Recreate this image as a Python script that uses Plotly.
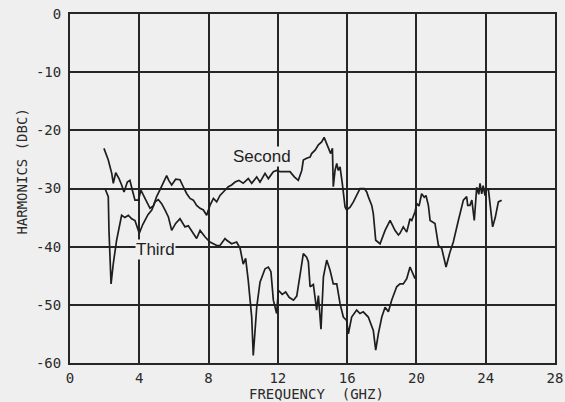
import plotly.graph_objects as go

# ---- data ----
second_freq = [1.96, 2.21, 2.41, 2.50, 2.64, 2.83, 2.98, 3.12, 3.31, 3.46, 3.60, 3.75, 3.94, 4.10, 4.33,
               4.62, 4.81, 5.00, 5.20, 5.40, 5.58, 5.70, 5.87, 6.10, 6.35, 6.54, 6.74, 6.93, 7.12, 7.31,
               7.51, 7.70, 7.89, 8.08, 8.28, 8.47, 8.66, 8.85, 9.14, 9.33, 9.53, 9.75, 10.00, 10.29, 10.49,
               10.78, 10.97, 11.26, 11.45, 11.74, 11.93, 12.12, 12.41, 12.70, 12.95, 13.18, 13.38, 13.47,
               13.66, 13.86, 13.95, 14.15, 14.34, 14.53, 14.67, 14.82, 14.95, 15.05, 15.15, 15.20, 15.30,
               15.40, 15.49, 15.59, 15.72, 15.88, 15.97, 16.17, 16.36, 16.55, 16.74, 16.99, 17.13, 17.22,
               17.42, 17.51, 17.65, 17.90, 18.19, 18.48, 18.62, 18.76, 18.96, 19.05, 19.24, 19.44, 19.63,
               19.73, 19.92, 20.02, 20.15, 20.30, 20.45, 20.55, 20.69, 20.79, 21.07, 21.27, 21.46, 21.71,
               21.94, 22.13, 22.42, 22.71, 22.90, 22.96, 23.09, 23.20, 23.34, 23.48, 23.60, 23.67, 23.77,
               23.85, 23.96, 24.06, 24.16, 24.25, 24.40, 24.55, 24.73, 24.92]
second_dbc = [-23.1, -25.1, -27.4, -29.1, -27.3, -28.3, -29.4, -30.6, -28.9, -28.6, -30.3, -32.0, -32.0, -30.3,
              -31.7, -33.4, -33.0, -31.4, -30.2, -28.8, -27.8, -28.6, -29.4, -28.4, -28.5, -29.7, -30.9,
              -31.7, -32.0, -32.9, -33.4, -33.7, -34.6, -32.9, -31.7, -32.3, -31.2, -30.6, -29.7, -29.4,
              -28.9, -28.6, -29.1, -28.3, -29.1, -28.0, -28.9, -27.4, -28.3, -27.1, -26.9, -27.1, -27.1,
              -27.1, -28.0, -28.6, -26.9, -25.1, -24.8, -24.6, -24.0, -23.4, -22.5, -22.0, -21.2, -22.3,
              -23.1, -24.0, -23.1, -29.7, -26.9, -25.7, -26.9, -26.3, -29.1, -33.2, -33.7, -33.2, -32.3,
              -31.2, -30.0, -30.0, -30.6, -31.4, -32.9, -34.3, -38.9, -39.5, -37.2, -35.5, -36.4, -37.2,
              -38.0, -37.7, -36.6, -37.5, -35.2, -35.5, -34.0, -32.6, -33.0, -30.9, -31.5, -31.2, -32.9,
              -35.5, -36.0, -39.8, -40.3, -43.5, -40.9, -39.2, -35.5, -32.0, -31.4, -32.9, -32.9, -32.0,
              -35.5, -29.8, -31.0, -29.1, -30.9, -29.5, -31.2, -30.0, -30.3, -32.5, -36.6, -35.0, -32.3,
              -32.0]

third_freq = [2.02, 2.21, 2.25, 2.37, 2.50, 2.69, 2.98, 3.17, 3.37, 3.56, 3.75, 3.94, 4.00, 4.20, 4.50,
              4.72, 4.91, 5.10, 5.29, 5.49, 5.68, 5.87, 6.10, 6.35, 6.64, 6.83, 7.02, 7.31, 7.51, 7.79,
              8.08, 8.47, 8.66, 8.95, 9.05, 9.33, 9.62, 9.82, 10.00, 10.14, 10.29, 10.49, 10.58, 10.78,
              10.97, 11.26, 11.45, 11.60, 11.74, 11.93, 12.03, 12.25, 12.45, 12.65, 12.90, 13.09, 13.28,
              13.47, 13.66, 13.76, 13.86, 14.05, 14.24, 14.34, 14.49, 14.63, 14.82, 15.01, 15.20, 15.40,
              15.59, 15.78, 15.97, 16.07, 16.26, 16.55, 16.74, 16.93, 17.22, 17.51, 17.65, 17.80, 18.00,
              18.19, 18.38, 18.57, 18.86, 19.05, 19.24, 19.44, 19.63, 19.82, 19.92]
third_dbc = [-30.0, -31.4, -37.2, -46.4, -42.9, -38.9, -34.6, -35.0, -34.6, -35.2, -35.5, -37.5, -37.7, -36.2,
             -34.5, -33.7, -32.3, -31.9, -32.6, -33.7, -34.9, -37.2, -36.0, -35.2, -36.6, -36.4, -37.2,
             -38.6, -37.2, -38.3, -39.2, -39.8, -39.8, -38.6, -38.9, -39.5, -39.2, -40.3, -43.0, -42.0,
             -45.8, -52.1, -58.7, -50.4, -46.1, -43.8, -43.5, -44.3, -49.2, -51.5, -47.5, -48.2, -47.8,
             -48.7, -49.2, -48.5, -44.9, -41.2, -41.8, -42.6, -46.9, -46.5, -50.9, -48.4, -54.2, -45.2,
             -42.3, -44.0, -46.4, -46.4, -49.8, -52.1, -52.7, -55.0, -52.1, -50.9, -51.5, -51.2, -52.1,
             -54.4, -57.8, -55.0, -52.1, -50.4, -51.2, -49.2, -46.9, -46.4, -46.4, -45.5, -43.5, -44.9,
             -45.5]

x_ticks = [0, 4, 8, 12, 16, 20, 24, 28]
y_ticks = [0, -10, -20, -30, -40, -50, -60]
x_title = "FREQUENCY  (GHZ)"
y_title = "HARMONICS (DBC)"
label_second = "Second"
label_third = "Third"

BG = "#efefef"
INK = "#1e1e1e"
TXT = "#2a2a2a"
MONO = "DejaVu Sans Mono"

fig = go.Figure()
fig.add_trace(go.Scatter(x=second_freq, y=second_dbc, mode="lines", name=label_second,
                         line=dict(color=INK, width=1.7), showlegend=False))
fig.add_trace(go.Scatter(x=third_freq, y=third_dbc, mode="lines", name=label_third,
                         line=dict(color=INK, width=1.7), showlegend=False))

axis_common = dict(showgrid=True, gridcolor="#262626", gridwidth=1.8, zeroline=False,
                   showline=True, linecolor="#262626", linewidth=2, mirror=True, ticks="",
                   automargin=False,
                   tickfont=dict(family=MONO, size=14, color=TXT))
fig.update_xaxes(range=[0, 28], tickvals=x_ticks, ticktext=[str(v) for v in x_ticks],
                 ticklabelstandoff=1, **axis_common)
fig.update_yaxes(range=[-60, 0], tickvals=y_ticks, ticktext=[str(v) for v in y_ticks],
                 ticklabelstandoff=4, **axis_common)

fig.add_annotation(x=11.09, y=-24.5, text=label_second, showarrow=False,
                   font=dict(family="Liberation Sans", size=17, color=INK), bgcolor=BG, borderpad=0)
fig.add_annotation(x=4.96, y=-40.5, text=label_third, showarrow=False,
                   font=dict(family="Liberation Sans", size=17, color=INK), bgcolor=BG, borderpad=0)
fig.add_annotation(xref="paper", yref="paper", x=0.508, y=-0.09, text=x_title, showarrow=False,
                   font=dict(family=MONO, size=14, color=TXT), yanchor="middle")
fig.add_annotation(xref="paper", yref="y", x=-0.099, y=-27.1, text=y_title, showarrow=False,
                   textangle=-90, font=dict(family=MONO, size=14, color=TXT), xanchor="center")

fig.update_layout(width=565, height=402, margin=dict(l=70, r=10, t=14, b=39),
                  paper_bgcolor=BG, plot_bgcolor=BG)
fig.write_html("out.html", config={"displayModeBar": False},
               post_script="document.body.style.margin='0';document.body.style.background='#efefef';")
